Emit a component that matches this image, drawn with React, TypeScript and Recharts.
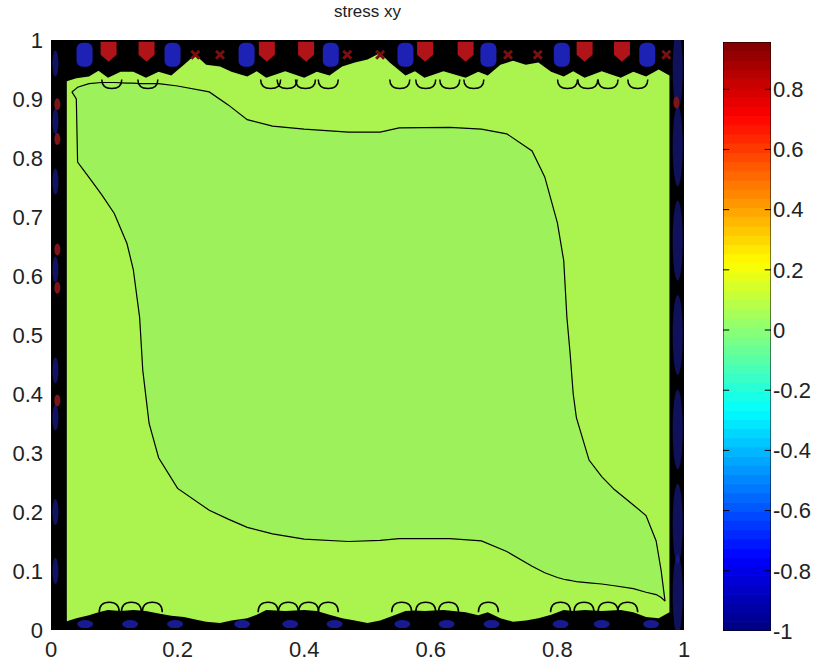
import React from "react";
import {
  ComposedChart,
  Area,
  Line,
  Scatter,
  XAxis,
  YAxis,
  CartesianGrid,
} from "recharts";

const xTicks = [0, 0.2, 0.4, 0.6, 0.8, 1];
const yTicks = [0, 0.1, 0.2, 0.3, 0.4, 0.5, 0.6, 0.7, 0.8, 0.9, 1];
const cbTicks = [-1, -0.8, -0.6, -0.4, -0.2, 0, 0.2, 0.4, 0.6, 0.8];
const cbMin = -1;
const cbMax = 0.957;

// outer light-green level (edges of the black boundary band)
const fieldX = [0.025, 0.04, 0.06, 0.075, 0.09, 0.11, 0.13, 0.15, 0.17, 0.19, 0.21, 0.228, 0.245, 0.267, 0.285, 0.31, 0.325, 0.34, 0.37, 0.4, 0.42, 0.44, 0.46, 0.48, 0.5, 0.52, 0.535, 0.56, 0.575, 0.59, 0.62, 0.655, 0.675, 0.69, 0.71, 0.73, 0.75, 0.77, 0.79, 0.81, 0.825, 0.843, 0.87, 0.9, 0.92, 0.94, 0.96, 0.977];
const fieldHigh = [0.93, 0.935, 0.938, 0.948, 0.936, 0.946, 0.946, 0.936, 0.946, 0.94, 0.958, 0.975, 0.958, 0.955, 0.946, 0.938, 0.947, 0.936, 0.947, 0.936, 0.946, 0.94, 0.955, 0.962, 0.967, 0.978, 0.962, 0.94, 0.947, 0.936, 0.947, 0.936, 0.946, 0.94, 0.958, 0.965, 0.958, 0.962, 0.946, 0.938, 0.947, 0.936, 0.947, 0.936, 0.946, 0.938, 0.95, 0.94];
const fieldLow = [0.015, 0.02, 0.025, 0.03, 0.034, 0.032, 0.034, 0.032, 0.028, 0.024, 0.022, 0.018, 0.014, 0.012, 0.016, 0.02, 0.026, 0.034, 0.032, 0.034, 0.032, 0.026, 0.02, 0.016, 0.012, 0.016, 0.022, 0.032, 0.033, 0.032, 0.034, 0.03, 0.025, 0.03, 0.02, 0.014, 0.016, 0.02, 0.026, 0.034, 0.032, 0.034, 0.032, 0.034, 0.03, 0.022, 0.02, 0.03];

// inner contour (level closest to zero)
const innerX = [0.033, 0.04, 0.042, 0.06, 0.08, 0.1, 0.12, 0.13, 0.14, 0.145, 0.155, 0.17, 0.2, 0.25, 0.28, 0.31, 0.35, 0.4, 0.47, 0.52, 0.55, 0.63, 0.68, 0.72, 0.76, 0.78, 0.8, 0.81, 0.815, 0.82, 0.825, 0.83, 0.85, 0.87, 0.89, 0.92, 0.94, 0.956, 0.964, 0.97];
const innerHigh = [0.912, 0.918, 0.92, 0.926, 0.928, 0.928, 0.927, 0.927, 0.926, 0.926, 0.926, 0.926, 0.922, 0.912, 0.89, 0.865, 0.854, 0.849, 0.844, 0.844, 0.851, 0.852, 0.849, 0.841, 0.812, 0.768, 0.69, 0.626, 0.53, 0.47, 0.4, 0.36, 0.288, 0.26, 0.238, 0.212, 0.194, 0.151, 0.1, 0.049];
const innerLow = [0.912, 0.9, 0.793, 0.767, 0.738, 0.706, 0.655, 0.611, 0.53, 0.44, 0.35, 0.292, 0.24, 0.203, 0.188, 0.174, 0.163, 0.154, 0.15, 0.152, 0.155, 0.155, 0.151, 0.133, 0.108, 0.097, 0.089, 0.086, 0.085, 0.084, 0.083, 0.082, 0.08, 0.078, 0.075, 0.07, 0.064, 0.06, 0.055, 0.049];

// extreme-value blobs in the boundary band
const topRedX = [0.091, 0.151, 0.341, 0.403, 0.591, 0.655, 0.843, 0.902];
const topBlueX = [0.053, 0.192, 0.309, 0.442, 0.56, 0.691, 0.807, 0.942];
const topMarkX = [0.228, 0.267, 0.468, 0.52, 0.722, 0.769, 0.972];
const bottomBlueX = [0.054, 0.125, 0.196, 0.302, 0.378, 0.448, 0.555, 0.625, 0.696, 0.805, 0.87, 0.948];
const leftRedY = [0.891, 0.832, 0.645, 0.58, 0.389];
const leftBlueY = [0.96, 0.862, 0.76, 0.611, 0.44, 0.36, 0.2, 0.1];
const rightBlueY = [0.95, 0.82, 0.66, 0.5, 0.34, 0.18, 0.06];
const rightRedY = [0.894];

// scalloped contour arcs near top and bottom
const topArcX = [0.096, 0.153, 0.347, 0.373, 0.402, 0.438, 0.551, 0.592, 0.63, 0.668, 0.816, 0.848, 0.88, 0.927];
const bottomDomeX = [0.092, 0.127, 0.16, 0.343, 0.375, 0.407, 0.438, 0.554, 0.592, 0.628, 0.691, 0.805, 0.842, 0.88, 0.911];

const fieldData = fieldX.map((x, i) => ({ x, band: [fieldLow[i], fieldHigh[i]] }));
const innerData = innerX.map((x, i) => ({ x, band: [innerLow[i], innerHigh[i]] }));
const pts = (xs: number[], y: number) => xs.map((x) => ({ x, y }));
const ptsY = (ys: number[], x: number) => ys.map((y) => ({ x, y }));

const RED = "#b01418";
const BLUE = "#1e22b4";
const FONT = "'Liberation Sans', Arial, sans-serif";
const tickStyle = { fill: "#222", fontSize: 22, fontFamily: FONT };

// jet colormap
const jet = (t: number) => {
  const c = (v: number) => Math.round(255 * Math.max(0, Math.min(1, v)));
  return `rgb(${c(1.5 - Math.abs(4 * t - 3))},${c(1.5 - Math.abs(4 * t - 2))},${c(1.5 - Math.abs(4 * t - 1))})`;
};
const cbSteps = Array.from({ length: 64 }, (_, i) => i);

const shield = (p: any) => (
  <path
    d={`M${p.cx - 8},${p.cy - 10} L${p.cx + 8},${p.cy - 10} L${p.cx + 8},${p.cy + 3} L${p.cx},${p.cy + 10} L${p.cx - 8},${p.cy + 3} Z`}
    fill={RED}
  />
);
const blueTall = (p: any) => <rect x={p.cx - 8} y={p.cy - 12} width={16} height={24} rx={6} fill={BLUE} />;
const mark = (p: any) => (
  <path
    d={`M${p.cx - 4},${p.cy - 4} L${p.cx + 4},${p.cy + 4} M${p.cx + 4},${p.cy - 4} L${p.cx - 4},${p.cy + 4}`}
    stroke="#7a1010"
    strokeWidth={3}
  />
);
const blueFlat = (p: any) => <ellipse cx={p.cx} cy={p.cy} rx={8} ry={4} fill={BLUE} opacity={0.8} />;
const redSmall = (p: any) => <ellipse cx={p.cx} cy={p.cy} rx={3} ry={6} fill="#7c1418" />;
const blueSide = (p: any) => <ellipse cx={p.cx} cy={p.cy} rx={3} ry={13} fill={BLUE} opacity={0.55} />;
const blueRight = (p: any) => <ellipse cx={p.cx} cy={p.cy} rx={5} ry={40} fill={BLUE} opacity={0.5} />;
const arcDown = (p: any) => (
  <path
    d={`M${p.cx - 10},${p.cy - 3} Q${p.cx - 10},${p.cy + 6} ${p.cx},${p.cy + 6} Q${p.cx + 10},${p.cy + 6} ${p.cx + 10},${p.cy - 3}`}
    stroke="#000"
    strokeWidth={1.5}
    fill="none"
  />
);
const arcUp = (p: any) => (
  <path
    d={`M${p.cx - 10},${p.cy + 4} Q${p.cx - 10},${p.cy - 6} ${p.cx},${p.cy - 6} Q${p.cx + 10},${p.cy - 6} ${p.cx + 10},${p.cy + 4}`}
    stroke="#000"
    strokeWidth={1.5}
    fill="none"
  />
);

const MainPlot = () => (
  <ComposedChart width={700} height={661} margin={{ top: 40, right: 16, bottom: 0, left: 0 }}>
    <CartesianGrid fill="#000" horizontal={false} vertical={false} />
    <XAxis
      type="number"
      dataKey="x"
      domain={[0, 1]}
      ticks={xTicks}
      interval={0}
      allowDataOverflow
      height={31}
      axisLine={false}
      tickLine={false}
      tickMargin={5}
      tick={tickStyle}
    />
    <YAxis
      type="number"
      domain={[0, 1]}
      ticks={yTicks}
      interval={0}
      allowDataOverflow
      width={51}
      axisLine={false}
      tickLine={false}
      tickMargin={2}
      tick={tickStyle}
    />
    <Area data={fieldData} dataKey="band" type="linear" fill="#abf450" fillOpacity={1} stroke="none" isAnimationActive={false} />
    <Area data={innerData} dataKey="band" type="linear" fill="#9df25c" fillOpacity={1} stroke="#000" strokeWidth={1.2} isAnimationActive={false} />
    <Scatter data={pts(topRedX, 0.98)} dataKey="y" shape={shield} isAnimationActive={false} />
    <Scatter data={pts(topBlueX, 0.975)} dataKey="y" shape={blueTall} isAnimationActive={false} />
    <Scatter data={pts(topMarkX, 0.975)} dataKey="y" shape={mark} isAnimationActive={false} />
    <Scatter data={pts(bottomBlueX, 0.01)} dataKey="y" shape={blueFlat} isAnimationActive={false} />
    <Scatter data={ptsY(leftBlueY, 0.007)} dataKey="y" shape={blueSide} isAnimationActive={false} />
    <Scatter data={ptsY(leftRedY, 0.01)} dataKey="y" shape={redSmall} isAnimationActive={false} />
    <Scatter data={ptsY(rightBlueY, 0.99)} dataKey="y" shape={blueRight} isAnimationActive={false} />
    <Scatter data={ptsY(rightRedY, 0.988)} dataKey="y" shape={redSmall} isAnimationActive={false} />
    <Scatter data={pts(topArcX, 0.928)} dataKey="y" shape={arcDown} isAnimationActive={false} />
    <Scatter data={pts(bottomDomeX, 0.037)} dataKey="y" shape={arcUp} isAnimationActive={false} />
  </ComposedChart>
);

const ColorBar = () => {
  const step = (cbMax - cbMin) / 64;
  const border = [
    { x: 0, y: cbMin },
    { x: 0, y: cbMax },
    { x: 1, y: cbMax },
    { x: 1, y: cbMin },
    { x: 0, y: cbMin },
  ];
  return (
    <ComposedChart width={117} height={661} margin={{ top: 42, right: 0, bottom: 30, left: 23 }}>
      <XAxis type="number" dataKey="x" domain={[0, 1]} allowDataOverflow hide />
      <YAxis
        type="number"
        orientation="right"
        domain={[cbMin, cbMax]}
        ticks={cbTicks}
        interval={0}
        allowDataOverflow
        width={46}
        axisLine={false}
        tickLine={false}
        tickSize={2}
        tickMargin={0}
        tick={tickStyle}
      />
      {cbSteps.map((i) => {
        const lo = cbMin + i * step;
        const hi = cbMin + (i + 1) * step;
        const col = jet((i + 0.5) / 64);
        return (
          <Area
            key={i}
            data={[
              { x: 0, band: [lo, hi] },
              { x: 1, band: [lo, hi] },
            ]}
            dataKey="band"
            type="linear"
            fill={col}
            fillOpacity={1}
            stroke={col}
            strokeWidth={1}
            isAnimationActive={false}
          />
        );
      })}
      {cbTicks.map((t) => (
        <Line
          key={`l${t}`}
          data={[{ x: 0, y: t }, { x: 0.13, y: t }]}
          dataKey="y"
          stroke="#000"
          dot={false}
          isAnimationActive={false}
        />
      ))}
      {cbTicks.map((t) => (
        <Line
          key={`r${t}`}
          data={[{ x: 0.87, y: t }, { x: 1, y: t }]}
          dataKey="y"
          stroke="#000"
          dot={false}
          isAnimationActive={false}
        />
      ))}
      <Line data={border} dataKey="y" stroke="#000" dot={false} isAnimationActive={false} />
    </ComposedChart>
  );
};

export default function App() {
  return (
    <div style={{ position: "absolute", left: 0, top: 0, width: 817, height: 661, background: "#fff" }}>
      <div
        style={{
          position: "absolute",
          left: 0,
          top: 2,
          width: 735,
          textAlign: "center",
          fontFamily: FONT,
          fontSize: 17,
          color: "#222",
        }}
      >
        stress xy
      </div>
      <div style={{ position: "absolute", left: 0, top: 0 }}>
        <MainPlot />
      </div>
      <div style={{ position: "absolute", left: 700, top: 0 }}>
        <ColorBar />
      </div>
    </div>
  );
}
